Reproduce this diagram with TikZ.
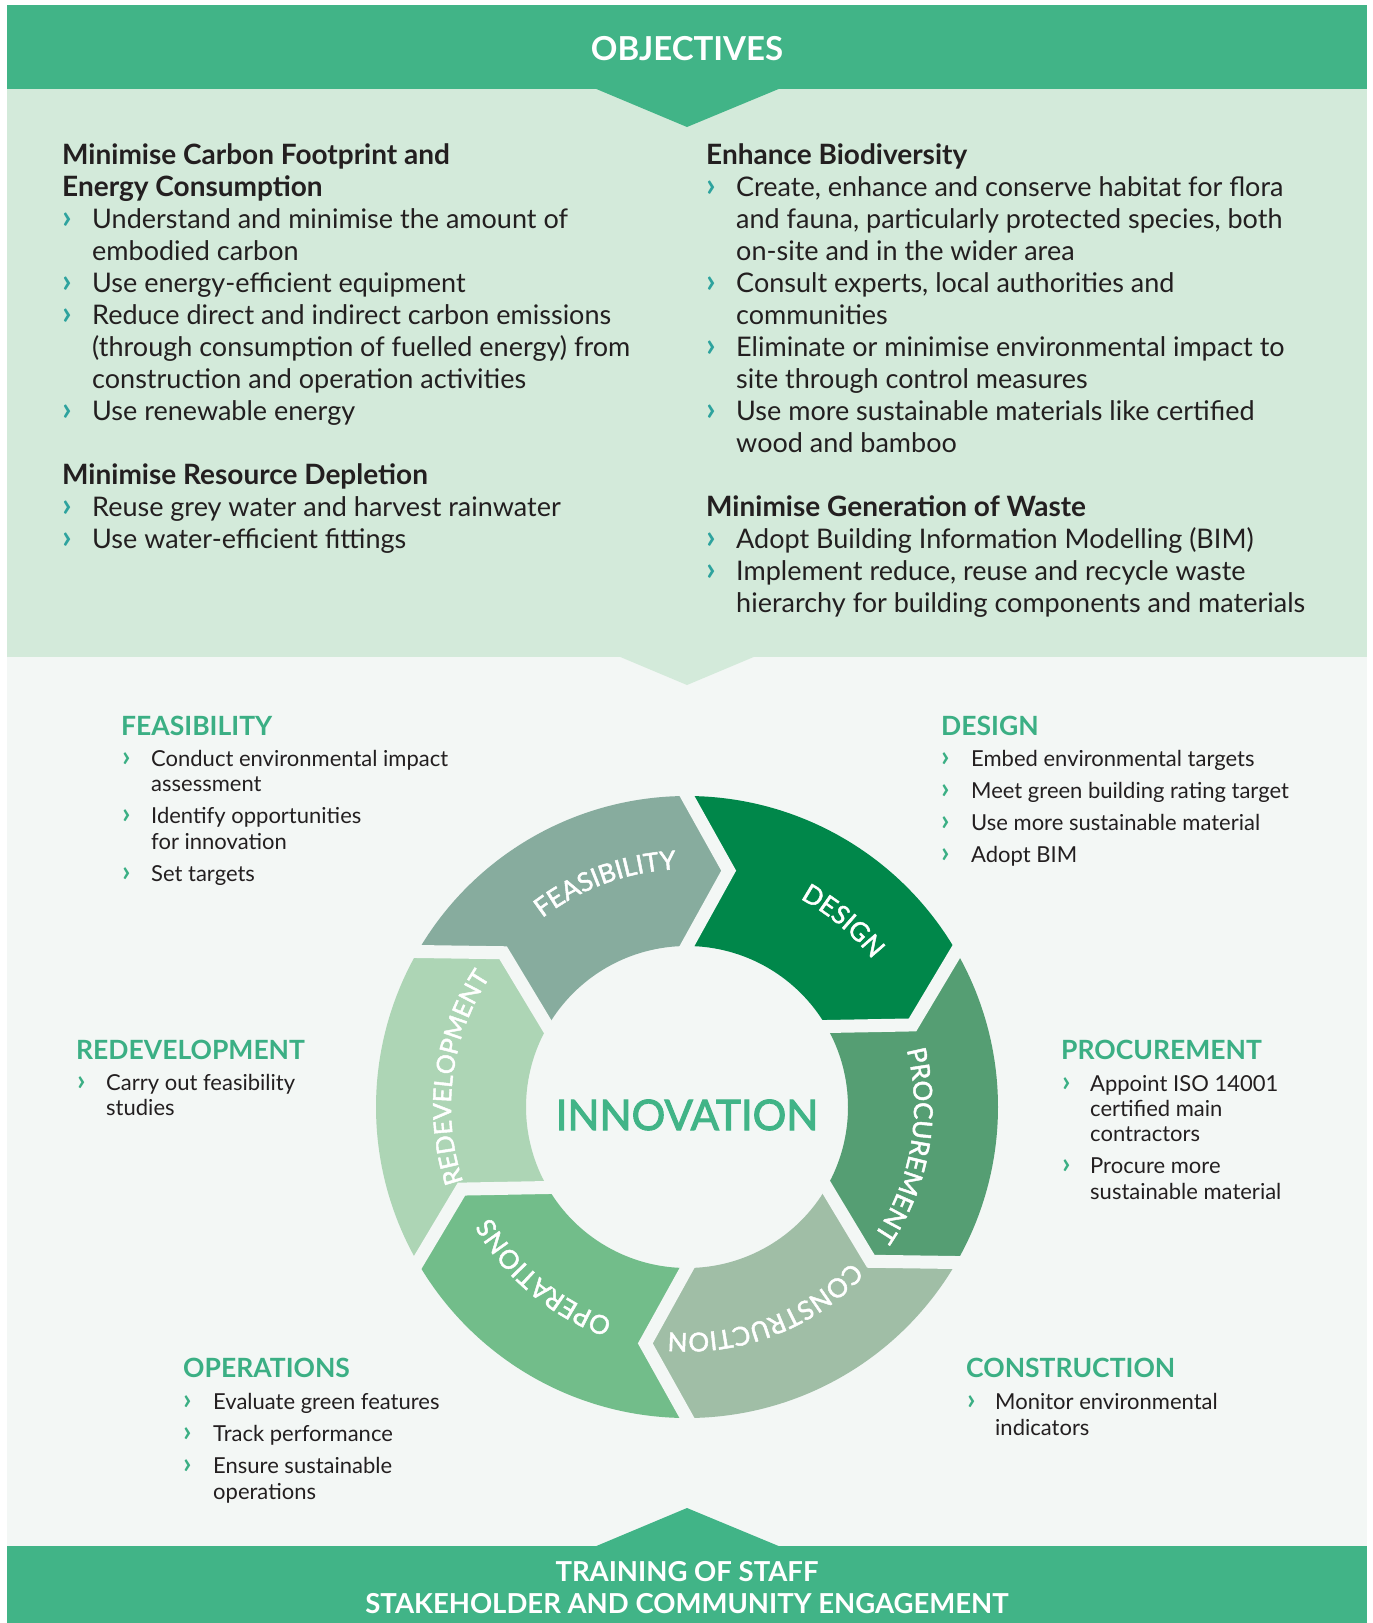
\documentclass[tikz,border=0pt]{standalone}
\usepackage{fontspec}
\setmainfont{Lato}
\newfontfamily\segfam{Lato}[FakeBold=1.8]
\newfontfamily\innfam{Lato}[FakeBold=2.5]
\usetikzlibrary{decorations.text,calc}
\definecolor{brand}{HTML}{41B487}
\definecolor{panel}{HTML}{D3EADA}
\definecolor{bgc}{HTML}{F3F7F5}
\definecolor{ink}{HTML}{231F20}
\definecolor{chevtop}{HTML}{2EA39E}
\definecolor{headg}{HTML}{3BAF84}
\definecolor{cFeas}{HTML}{87AC9E}
\definecolor{cDes}{HTML}{00874A}
\definecolor{cProc}{HTML}{559E73}
\definecolor{cCons}{HTML}{A0BEA6}
\definecolor{cOps}{HTML}{72BD8A}
\definecolor{cRedev}{HTML}{ADD5B5}
\newcommand\segfont{\segfam\fontsize{26}{30}\selectfont}
\newcommand\redfont{\segfam\fontsize{25}{30}\selectfont}
\tikzset{
  toptxt/.style={anchor=base west, inner sep=0pt, text=ink, font=\fontsize{27}{32}\selectfont},
  tophead/.style={anchor=base west, inner sep=0pt, text=ink, font=\fontsize{28}{32}\selectfont\bfseries},
  topbul/.style={anchor=base west, inner sep=0pt, text=chevtop, font=\fontsize{33}{32}\selectfont\bfseries},
  lowtxt/.style={anchor=base west, inner sep=0pt, text=ink, font=\fontsize{22}{26}\selectfont},
  lowhead/.style={anchor=base west, inner sep=0pt, text=headg, font=\fontsize{26.5}{30}\selectfont\bfseries},
  lowbul/.style={anchor=base west, inner sep=0pt, text=headg, font=\fontsize{29}{26}\selectfont\bfseries},
  bandtxt/.style={anchor=base, inner sep=0pt, text=white, font=\bfseries},
  seglab/.style={decorate, decoration={text along path, text align=center, text color=white, text={|\segfont|#1}}},
  redlab/.style={decorate, decoration={text along path, text align=center, text color=white, text={|\redfont|#1}}},
}
\newcommand\myTT[4]{\node[toptxt] (#1) at (#2,-#3) {#4};}
\newcommand\myTH[4]{\node[tophead] (#1) at (#2,-#3) {#4};}
\newcommand\myTB[3]{\node[topbul] (#1) at (#2,-#3) {›};}
\newcommand\myLT[4]{\node[lowtxt] (#1) at (#2,-#3) {#4};}
\newcommand\myLH[4]{\node[lowhead] (#1) at (#2,-#3) {#4};}
\newcommand\myLB[3]{\node[lowbul] (#1) at (#2,-#3) {›};}
\newcommand\wseg[2]{\fill[#1] (#2:311) arc[start angle=#2, end angle=#2-60, radius=311] -- (#2-70:240) -- (#2-60:161) arc[start angle=#2-60, end angle=#2, radius=161] -- (#2-10:240) -- cycle;}
\begin{document}
\begin{tikzpicture}[x=1pt,y=1pt]
\useasboundingbox (0,0) rectangle (1373,-1623);
\fill[white] (0,0) rectangle (1373,-1623);
\fill[bgc] (7,-657) rectangle (1367,-1546);
\fill[panel] (7,-89) rectangle (1367,-657);
\fill[brand] (7,-5) rectangle (1367,-89);
\fill[brand] (594,-88) -- (781,-88) -- (687,-127) -- cycle;
\fill[panel] (618,-656) -- (756,-656) -- (687,-685) -- cycle;
\fill[brand] (7,-1546) rectangle (1367,-1623);
\fill[brand] (594,-1547) -- (781,-1547) -- (687,-1508) -- cycle;
\node[bandtxt, font=\fontsize{33}{36}\selectfont\bfseries] (obj) at (687,-60) {OBJECTIVES};
\node[bandtxt, font=\fontsize{27.5}{30}\selectfont\bfseries] (train) at (687,-1581) {TRAINING OF STAFF};
\node[bandtxt, font=\fontsize{27.5}{30}\selectfont\bfseries] (stake) at (687,-1613) {STAKEHOLDER AND COMMUNITY ENGAGEMENT};
\myTH{a1}{62}{164}{Minimise Carbon Footprint and}
\myTH{a2}{62}{196}{Energy Consumption}
\myTB{ab1}{62}{228}\myTT{a3}{92}{228}{Understand and minimise the amount of}
\myTT{a4}{92}{260}{embodied carbon}
\myTB{ab2}{62}{292}\myTT{a5}{92}{292}{Use energy-efficient equipment}
\myTB{ab3}{62}{324}\myTT{a6}{92}{324}{Reduce direct and indirect carbon emissions}
\myTT{a7}{92}{356}{(through consumption of fuelled energy) from}
\myTT{a8}{92}{388}{construction and operation activities}
\myTB{ab4}{62}{420}\myTT{a9}{92}{420}{Use renewable energy}
\myTH{b1}{62}{484}{Minimise Resource Depletion}
\myTB{bb1}{62}{516}\myTT{b2}{92}{516}{Reuse grey water and harvest rainwater}
\myTB{bb2}{62}{548}\myTT{b3}{92}{548}{Use water-efficient fittings}
\myTH{c1}{706}{164}{Enhance Biodiversity}
\myTB{cb1}{706}{196}\myTT{c2}{736}{196}{Create, enhance and conserve habitat for flora}
\myTT{c3}{736}{228}{and fauna, particularly protected species, both}
\myTT{c4}{736}{260}{on-site and in the wider area}
\myTB{cb2}{706}{292}\myTT{c5}{736}{292}{Consult experts, local authorities and}
\myTT{c6}{736}{324}{communities}
\myTB{cb3}{706}{356}\myTT{c7}{736}{356}{Eliminate or minimise environmental impact to}
\myTT{c8}{736}{388}{site through control measures}
\myTB{cb4}{706}{420}\myTT{c9}{736}{420}{Use more sustainable materials like certified}
\myTT{c10}{736}{452}{wood and bamboo}
\myTH{d1}{706}{516}{Minimise Generation of Waste}
\myTB{db1}{706}{548}\myTT{d2}{736}{548}{Adopt Building Information Modelling (BIM)}
\myTB{db2}{706}{580}\myTT{d3}{736}{580}{Implement reduce, reuse and recycle waste}
\myTT{d4}{736}{612}{hierarchy for building components and materials}
\begin{scope}[shift={(687,-1107)}]
  \wseg{cFeas}{150}
  \wseg{cDes}{90}
  \wseg{cProc}{30}
  \wseg{cCons}{-30}
  \wseg{cOps}{-90}
  \wseg{cRedev}{-150}
  \foreach \t in {90,30,-30,-90,-150,150}{
    \draw[bgc, line width=13pt, line join=miter]
      ($(\t:311)!-30pt!(\t-10:240)$) -- (\t-10:240) -- ($(\t:161)!-30pt!(\t-10:240)$);
  }
  \path[seglab=FEASIBILITY] (160:238) arc[start angle=160, end angle=60, radius=238];
  \path[seglab=DESIGN] (100:237) arc[start angle=100, end angle=0, radius=237];
  \path[seglab=PROCUREMENT] (40:227) arc[start angle=40, end angle=-60, radius=227];
  \path[seglab=CONSTRUCTION] (-19:226) arc[start angle=-19, end angle=-119, radius=226];
  \path[seglab=OPERATIONS] (-80:225) arc[start angle=-80, end angle=-180, radius=225];
  \path[redlab=REDEVELOPMENT] (222.5:236) arc[start angle=222.5, end angle=122.5, radius=236];
\end{scope}
\node[anchor=base, inner sep=0pt, text=brand, font=\innfam\fontsize{42}{46}\selectfont] (innov) at (687,-1130) {INNOVATION};
\myLH{f0}{121}{735}{FEASIBILITY}
\myLB{fb1}{122}{766}\myLT{f1}{151}{766}{Conduct environmental impact}
\myLT{f2}{151}{791}{assessment}
\myLB{fb2}{122}{823}\myLT{f3}{151}{823}{Identify opportunities}
\myLT{f4}{151}{849}{for innovation}
\myLB{fb3}{122}{881}\myLT{f5}{151}{881}{Set targets}
\myLH{g0}{941}{735}{DESIGN}
\myLB{gb1}{941}{766}\myLT{g1}{971}{766}{Embed environmental targets}
\myLB{gb2}{941}{798}\myLT{g2}{971}{798}{Meet green building rating target}
\myLB{gb3}{941}{830}\myLT{g3}{971}{830}{Use more sustainable material}
\myLB{gb4}{941}{862}\myLT{g4}{971}{862}{Adopt BIM}
\myLH{r0}{76}{1059}{REDEVELOPMENT}
\myLB{rb1}{77}{1090}\myLT{r1}{106}{1090}{Carry out feasibility}
\myLT{r2}{106}{1115}{studies}
\myLH{p0}{1061}{1059}{PROCUREMENT}
\myLB{pb1}{1062}{1091}\myLT{p1}{1090}{1091}{Appoint ISO 14001}
\myLT{p2}{1090}{1116}{certified main}
\myLT{p3}{1090}{1141}{contractors}
\myLB{pb2}{1062}{1173}\myLT{p4}{1090}{1173}{Procure more}
\myLT{p5}{1090}{1199}{sustainable material}
\myLH{o0}{183}{1377}{OPERATIONS}
\myLB{ob1}{183}{1409}\myLT{o1}{213}{1409}{Evaluate green features}
\myLB{ob2}{183}{1441}\myLT{o2}{213}{1441}{Track performance}
\myLB{ob3}{183}{1473}\myLT{o3}{213}{1473}{Ensure sustainable}
\myLT{o4}{213}{1499}{operations}
\myLH{k0}{966}{1377}{CONSTRUCTION}
\myLB{kb1}{967}{1409}\myLT{k1}{995}{1409}{Monitor environmental}
\myLT{k2}{995}{1435}{indicators}
\end{tikzpicture}
\end{document}
